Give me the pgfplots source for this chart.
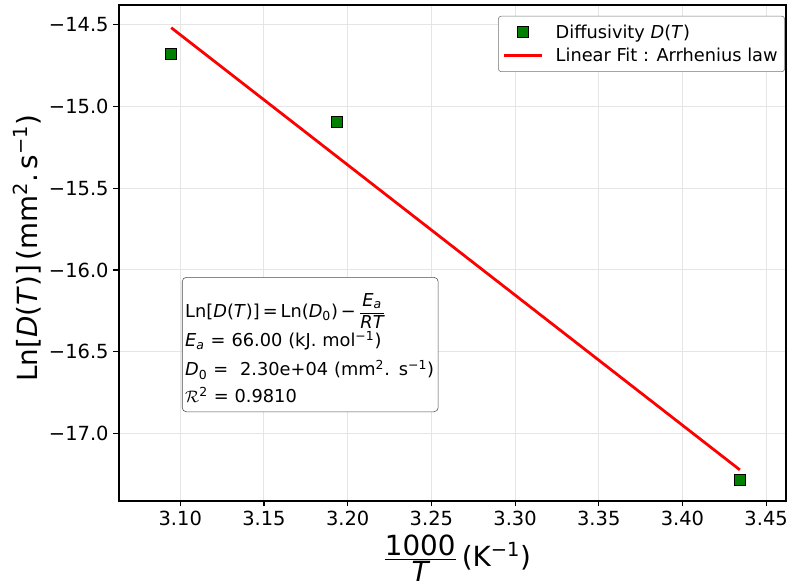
\documentclass[border=0pt]{standalone}
\usepackage{fontspec}
\setmainfont{DejaVu Sans}
\usepackage{amsmath}
\usepackage{pgfplots}
\pgfplotsset{compat=1.18}
\definecolor{mplgreen}{RGB}{0,128,0}
\definecolor{mplred}{RGB}{255,0,0}
\begin{document}
\begin{tikzpicture}
\path[use as bounding box] (-85.7bp,-61.9bp) rectangle (481bp,360.7bp);
\begin{axis}[
  at={(0,0)}, anchor=south west,
  scale only axis, width=480.2bp, height=357.1bp,
  xmin=3.0634, xmax=3.4618, ymin=-17.413, ymax=-14.379,
  xtick={3.10,3.15,3.20,3.25,3.30,3.35,3.40,3.45},
  xticklabels={3.10,3.15,3.20,3.25,3.30,3.35,3.40,3.45},
  ytick={-17.0,-16.5,-16.0,-15.5,-15.0,-14.5},
  yticklabels={−17.0,−16.5,−16.0,−15.5,−15.0,−14.5},
  tick label style={font=\fontsize{14bp}{16bp}\selectfont},
  tick align=outside, tick pos=left,
  major tick length=4bp,
  every tick/.style={black, line width=0.8bp},
  axis line style={line width=1bp},
  grid=major,
  major grid style={color=black!10, line width=0.7bp},
  xlabel={$\frac{\hbox{1000}}{\hbox{\itshape T}}$\,(K\textsuperscript{−1})},
  xlabel style={font=\fontsize{20bp}{24bp}\selectfont, at={(axis description cs:0.507,-0.115)}, anchor=center},
  ylabel={Ln[\textit{D}(\textit{T})]\,(mm\textsuperscript{2}.\,s\textsuperscript{−1})},
  ylabel style={font=\fontsize{20bp}{24bp}\selectfont, at={(axis description cs:-0.138,0.51)}, anchor=center},
  legend image code/.code={\draw[mark repeat=2,mark phase=2,#1] plot coordinates {(0bp,0bp) (13.7bp,0bp) (27.4bp,0bp)};},
  legend style={
    at={(axis description cs:0.9985,0.978)}, anchor=north east,
    font=\fontsize{12.8bp}{15bp}\selectfont,
    draw=black!55, rounded corners=2bp,
    inner xsep=3bp, inner ysep=4bp,
    row sep=1.5bp,
    nodes={inner sep=2bp},
    cells={anchor=west},
    /tikz/every odd column/.append style={column sep=6.8bp},
  },
  clip=false,
]
\addplot[only marks, mark=square*, mark size=4bp,
  mark options={fill=mplgreen, draw=black, line width=0.6bp}]
  coordinates {(3.0946,-14.677) (3.1934,-15.094) (3.4343,-17.285)};
\addlegendentry{Diffusivity \textit{D}(\textit{T})}
\addplot[mplred, line width=2bp, no marks]
  coordinates {(3.0946,-14.518) (3.4343,-17.223)};
\addlegendentry{Linear Fit : Arrhenius law}
\node[draw=black!70, rounded corners=3bp, fill=white, anchor=north west,
  minimum width=184.3bp, text width=180bp, inner xsep=2bp, inner ysep=0pt,
  align=left, font=\fontsize{12.8bp}{21bp}\selectfont]
  at (axis cs:3.1010,-16.0436)
  {\rule{0pt}{28.8bp}Ln[\textit{D}(\textit{T})]\,=\,Ln(\textit{D}\textsubscript{0})\,−\,$\displaystyle\frac{\hbox{\itshape E\textsubscript{a}}}{\hbox{\itshape RT}}$\\
   \textit{E}\textsubscript{\textit{a}} = 66.00 (kJ. mol\textsuperscript{−1})\\
   \textit{D}\textsubscript{0} = \ 2.30e+04 (mm\textsuperscript{2}. s\textsuperscript{−1})\\[-2bp]
   $\mathcal{R}$\textsuperscript{2} = 0.9810\rule[-7bp]{0pt}{0pt}};
\end{axis}
\end{tikzpicture}
\end{document}
